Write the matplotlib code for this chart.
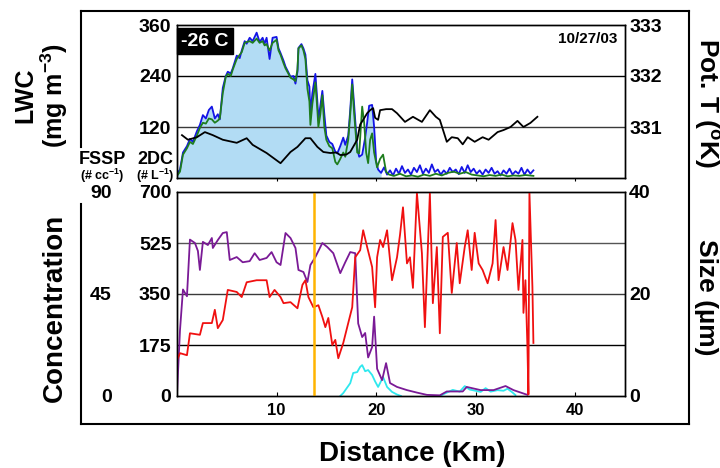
import matplotlib
matplotlib.use("Agg")
import matplotlib.pyplot as plt
from matplotlib.lines import Line2D
import numpy as np

plt.rcParams['font.family'] = ['Liberation Sans', 'DejaVu Sans']
plt.rcParams['font.weight'] = 'bold'
plt.rcParams['mathtext.fontset'] = 'custom'
plt.rcParams['mathtext.rm'] = 'Liberation Sans:bold'
plt.rcParams['mathtext.bf'] = 'Liberation Sans:bold'
plt.rcParams['mathtext.default'] = 'rm'

# ---------------- data ----------------
# LWC probe 1 (blue), mg m-3
lwc1_km = [0.0, 0.3, 0.6, 1.0, 1.3, 1.6, 2.0, 2.3, 2.6, 2.9, 3.2, 3.5, 3.8, 4.1, 4.3, 4.6,
           4.9, 5.1, 5.4, 5.6, 6.0, 6.3, 6.5, 6.8, 7.0, 7.3, 7.6, 8.0, 8.3, 8.6, 8.8, 9.0,
           9.3, 9.6, 10.0, 10.2, 10.4, 10.7, 10.9, 11.2, 11.4, 11.7, 11.9, 12.1, 12.2, 12.5,
           12.7, 12.9, 13.1, 13.3, 13.4, 13.6, 13.9, 14.1, 14.2, 14.4, 14.6, 14.8, 15.0, 15.3,
           15.6, 15.9, 16.1, 16.4, 16.7, 16.9, 17.2, 17.4, 17.6, 17.8, 18.1, 18.3, 18.6, 18.9,
           19.1, 19.3, 19.6, 19.8, 20.0, 20.2,
           20.5, 20.8, 21.1, 21.4, 21.7, 22.0, 22.3, 22.6, 22.9, 23.2, 23.5, 23.8, 24.1, 24.4,
           24.7, 25.0, 25.3, 25.6, 25.9, 26.2, 26.5, 26.8, 27.1, 27.4, 27.7, 28.0, 28.3, 28.6,
           28.9, 29.2, 29.5, 29.8, 30.1, 30.4, 30.7, 31.0, 31.3, 31.6, 31.9, 32.2, 32.5, 32.8,
           33.1, 33.4, 33.7, 34.0, 34.3, 34.6, 34.9, 35.2, 35.5, 35.8]
lwc1_val = [10, 20, 60, 75, 92, 85, 110, 125, 148, 140, 160, 168, 140, 150, 138, 212,
            240, 250, 246, 258, 288, 282, 300, 322, 316, 330, 322, 342, 320, 330, 316, 330,
            280, 330, 332, 305, 294, 276, 262, 248, 238, 240, 222, 250, 306, 315,
            305, 290, 230, 215, 150, 200, 245, 180, 136, 170, 205, 150, 100, 85,
            80, 62, 58, 75, 95, 78, 100, 160, 232, 170, 70, 50, 55, 95,
            130, 170, 172, 120, 40, 20,
            12, 25, 8, 18, 6, 22, 10, 28, 12, 20, 8, 24, 14, 30,
            10, 22, 12, 32, 14, 20, 8, 18, 10, 24, 14, 20, 9, 26,
            12, 30, 14, 22, 10, 18, 8, 20, 12, 24, 10, 16, 6, 18,
            10, 22, 8, 16, 10, 24, 8, 20, 10, 18]

# LWC probe 2 (green), mg m-3
lwc2_km = [0.0, 0.3, 0.6, 1.0, 1.3, 1.6, 2.0, 2.3, 2.6, 2.9, 3.2, 3.5, 3.8, 4.1, 4.3, 4.6,
           4.9, 5.1, 5.4, 5.6, 6.0, 6.3, 6.5, 6.8, 7.0, 7.3, 7.6, 8.0, 8.3, 8.6, 8.8, 9.0,
           9.3, 9.6, 10.0, 10.2, 10.4, 10.7, 10.9, 11.2, 11.4, 11.7, 11.9, 12.1, 12.2, 12.5,
           12.7, 12.9, 13.1, 13.3, 13.4, 13.6, 13.9, 14.1, 14.2, 14.4, 14.6, 14.8, 15.0, 15.3,
           15.6, 15.9, 16.1, 16.4, 16.7, 16.9, 17.2, 17.4, 17.6, 17.8, 18.1, 18.3, 18.6, 18.8,
           19.0, 19.2, 19.4, 19.6, 19.8, 20.1, 20.4, 20.7, 21.0, 21.3,
           21.8, 22.4, 23.0, 23.6, 24.2, 24.8, 25.4, 26.0, 26.6, 27.2, 27.8, 28.4, 29.0, 29.6,
           30.2, 30.8, 31.4, 32.0, 32.6, 33.2, 33.8, 34.4, 35.0, 35.8]
lwc2_val = [5, 15, 55, 70, 85, 80, 100, 118, 130, 128, 140, 138, 130, 135, 140, 200,
            238, 245, 240, 255, 280, 290, 296, 318, 320, 322, 318, 328, 318, 322, 312, 315,
            300, 318, 325, 300, 290, 270, 258, 245, 236, 232, 228, 255, 305, 312,
            300, 280, 210, 180, 125, 175, 225, 160, 120, 150, 195, 120, 90, 75,
            70, 38, 32, 45, 60, 50, 90, 150, 220, 150, 60, 58, 168, 130,
            60, 35, 90, 105, 60, 25, 45, 55, 15, 8,
            5, 10, 4, 6, 3, 8, 5, 10, 6, 12, 15, 10, 14, 8,
            6, 4, 7, 5, 8, 4, 6, 5, 7, 5]

# Potential temperature, K
theta_km = [0.5, 1.1, 2.0, 2.8, 3.6, 4.6, 6.0, 7.0, 7.6, 9.0, 10.4, 11.4, 12.1, 12.9, 13.4,
            14.1, 14.7, 15.4, 16.0, 16.4, 17.0, 17.4, 18.1, 18.4, 18.7, 19.1, 19.4, 19.7,
            19.9, 20.2, 20.4, 21.0, 21.6, 22.1, 22.9, 23.7, 24.6, 25.4, 26.0, 26.4, 27.1,
            27.6, 28.2, 28.7, 29.2, 29.9, 30.7, 31.3, 32.2, 32.8, 33.5, 34.2, 34.8, 35.5, 36.2]
theta_val = [330.84, 330.75, 330.80, 330.90, 330.84, 330.75, 330.69, 330.78, 330.65, 330.49,
             330.29, 330.51, 330.61, 330.78, 330.78, 330.61, 330.51, 330.49, 330.50, 330.45,
             330.46, 330.51, 330.75, 331.05, 331.14, 331.27, 331.33, 331.37, 331.18, 331.14,
             331.33, 331.35, 331.35, 331.27, 331.10, 331.20, 331.10, 331.33, 331.20, 331.14,
             330.71, 330.80, 330.78, 330.66, 330.80, 330.71, 330.80, 330.75, 330.90, 330.94,
             331.00, 331.12, 331.00, 331.08, 331.20]

# FSSP concentration (purple), # cc-1
fssp_km = [0.0, 0.3, 0.6, 1.0, 1.3, 1.8, 2.1, 2.3, 2.6, 3.1, 3.5, 3.6, 4.1, 4.6, 5.0, 5.3,
           6.0, 6.6, 7.3, 7.8, 8.3, 9.0, 9.5, 10.0, 10.4, 10.9, 11.4, 11.9, 12.2, 12.7, 13.1,
           13.4, 13.9, 14.6, 15.1, 15.7, 16.4, 16.9, 17.4, 17.9, 18.2, 18.6, 18.9, 19.2,
           19.6, 19.8, 20.1, 20.6, 21.0, 21.4, 22.1, 23.1, 24.1, 25.1, 26.4, 27.1, 28.0,
           28.7, 29.1, 30.5, 31.8, 33.0, 33.8, 35.2]
fssp_val = [1, 29, 47, 44, 69, 67.5, 64, 55.6, 68, 66.6, 69.7, 65.3, 68.8, 71.9, 72.3, 60,
            61.3, 59, 59.5, 63, 60, 60.9, 63.5, 59, 57.8, 71.9, 69.7, 65.3, 55.6, 54.7, 50.3,
            57.8, 61.3, 67.5, 65.7, 63, 54.2, 59, 63.5, 63, 32, 26, 27.8, 17,
            21.6, 35, 12, 7, 14.5, 5.7, 4, 2.6, 1.5, 0.5, 0.3, 2, 2,
            2, 4, 2.6, 2.6, 4.4, 2.6, 0.5]

# 2DC concentration (cyan), # L-1 ; NaN marks the gap between cloud segments
twodc_km = [16.4, 16.7, 17.4, 17.7, 18.1, 18.4, 18.6, 18.9, 19.2, 19.6, 19.9, 20.2, 20.7,
            21.1, 21.6, 22.1, 22.5, 24.5, 26.4, 27.0, 27.7, 28.4, 28.9, 29.4, 29.7, 30.5,
            31.0, 31.5, 32.2, 32.8, 33.2, 33.7, 34.0]
twodc_val = [0, 10, 44, 79, 82, 100, 106, 85, 89, 72, 50, 31, 65,
             31, 14, 5, 0, np.nan, 0, 10, 21, 15, 34, 22, 20, 14,
             27, 15, 20, 18, 25, 12, 3]

# Mean droplet size (red), um
size_km = [0.0, 0.3, 1.0, 1.3, 2.3, 2.6, 3.5, 3.8, 4.1, 4.6, 5.1, 6.0, 6.5, 7.0, 8.0, 9.0,
           9.3, 9.8, 10.4, 10.7, 11.4, 12.1, 12.6, 12.9, 13.2, 13.7, 14.2, 14.6, 14.9, 15.2,
           15.6, 15.9, 16.2, 16.7, 17.2, 17.6, 17.9, 18.4, 18.7, 19.1, 19.6, 19.9, 20.1,
           20.4, 20.7, 21.1, 21.6, 22.1, 22.4, 22.7, 23.1, 23.4, 23.7, 24.1, 24.6, 24.9,
           25.2, 25.4, 25.7, 26.1, 26.4, 26.7, 27.2, 27.6, 28.1, 28.4, 28.9, 29.2, 29.6,
           29.9, 30.3, 30.7, 31.2, 31.7, 32.0, 32.3, 32.8, 33.2, 33.7, 34.0, 34.3, 34.7,
           34.8, 35.0, 35.2, 35.3, 35.4, 35.7, 35.8]
size_val = [7, 8.4, 8.0, 12.3, 12, 14.3, 14.3, 16.9, 13.3, 14.9, 20.8, 20.4, 19.4, 22.3, 22.7,
            22.7, 19.4, 20.8, 19.4, 18.2, 18.4, 17.2, 21.8, 22.7, 19.4, 17.4, 17.8, 15.5,
            13.5, 15.3, 10, 11, 7.4, 10.4, 14.3, 17.4, 27.2, 28.6, 32.5, 29.2, 25.3, 17.4,
            27.2, 30.6, 29.2, 32.5, 22.7, 27.2, 31.6, 37, 26, 27.2, 21.2, 39.8, 28, 13.5,
            29.2, 39.8, 18.2, 29.2, 12.3, 31.2, 32, 20.2, 30, 22.1, 29.2, 32.5, 24.7,
            32, 26, 24.7, 22.1, 26, 34.5, 22.7, 29.2, 24.7, 33.9, 30.6, 20.8, 30.6,
            16.3, 22.7, 9.6, 0.3, 40, 21.4, 10.4]

marker_km = 13.8          # vertical reference line
fill_end_km = 20.5        # extent of the shaded LWC area

lwc_ticks = [120, 240, 360]
theta_ticks = [331, 332, 333]
twodc_ticks = [0, 175, 350, 525, 700]
fssp_ticks = [0, 45, 90]
size_ticks = [0, 20, 40]
dist_ticks = [10, 20, 30, 40]

# ---------------- figure ----------------
W, H = 720, 468
fig = plt.figure(figsize=(W / 100, H / 100), dpi=100)


def fx(px):
    return px / W


def fy(py):
    return 1 - py / H


L, R = 177, 625
ax_top = fig.add_axes([fx(L), fy(178), fx(R) - fx(L), fy(25) - fy(178)])
ax_bot = fig.add_axes([fx(L), fy(396), fx(R) - fx(L), fy(192) - fy(396)])

BLUE = '#1414e6'
GREEN = '#1e7d1e'
PURPLE = '#7a1a96'
RED = '#f01010'
CYAN = '#2ee8ee'
ORANGE = '#ffb400'
FILL = '#b2dcf4'

# --- top panel: LWC + potential temperature
k1 = np.array(lwc1_km)
v1 = np.array(lwc1_val, dtype=float)
ax_top.fill_between(k1, 0, v1, where=k1 <= fill_end_km, color=FILL, lw=0, zorder=0.5)
ax_top.plot(lwc1_km, lwc1_val, color=BLUE, lw=1.3, zorder=2)
ax_top.plot(lwc2_km, lwc2_val, color=GREEN, lw=1.3, zorder=2.1)
for yv, c in zip([120, 240], ['#3a3a3a', '#000000']):
    ax_top.axhline(yv, color=c, lw=1.0, zorder=1)
ax_top.set_xlim(0, 45)
ax_top.set_ylim(0, 360)
ax_top.set_yticks(lwc_ticks)
ax_top.set_xticks(dist_ticks)
ax_top.tick_params(axis='x', labelbottom=False, direction='out', length=2, width=0.8)
ax_top.tick_params(axis='y', length=0, pad=4, labelsize=14)

ax_th = ax_top.twinx()
ax_th.plot(theta_km, theta_val, color='black', lw=1.3)
ax_th.set_ylim(330, 333)
ax_th.set_yticks(theta_ticks)
ax_th.tick_params(axis='y', length=0, pad=3, labelsize=14)

ax_top.text((205 - L) / (R - L), 1 - (41 - 25) / 153, '-26 C', transform=ax_top.transAxes,
            color='white', fontsize=14, fontweight='bold', ha='center', va='center',
            bbox=dict(boxstyle='square,pad=0.22', fc='black', ec='black'), zorder=5)
ax_top.text((617 - L) / (R - L), 1 - (39 - 25) / 153, '10/27/03', transform=ax_top.transAxes,
            fontsize=11, fontweight='bold', ha='right', va='center')

# --- bottom panel: concentrations + size
ax_bot.plot(twodc_km, twodc_val, color=CYAN, lw=1.3, zorder=2)
for yv, c in zip([175, 350, 525], ['#000000', '#3a3a3a', '#555555']):
    ax_bot.axhline(yv, color=c, lw=1.0, zorder=1)
ax_bot.set_xlim(0, 45)
ax_bot.set_ylim(0, 700)
ax_bot.set_yticks(twodc_ticks)
ax_bot.set_xticks(dist_ticks)
ax_bot.tick_params(axis='x', direction='in', length=3, width=0.8, pad=5, labelsize=12)
ax_bot.tick_params(axis='y', length=0, pad=4, labelsize=14)

ax_f = ax_bot.twinx()
ax_f.plot(fssp_km, fssp_val, color=PURPLE, lw=1.3)
ax_f.set_ylim(0, 90)
ax_f.set_yticks(fssp_ticks)
ax_f.yaxis.tick_left()
ax_f.spines['left'].set_position(('outward', 44))
for s in ax_f.spines.values():
    s.set_visible(False)
ax_f.tick_params(axis='y', length=0, pad=3, labelsize=14)

ax_s = ax_bot.twinx()
ax_s.plot(size_km, size_val, color=RED, lw=1.3)
ax_s.axvline(marker_km, color=ORANGE, lw=1.8)
ax_s.set_ylim(0, 40)
ax_s.set_yticks(size_ticks)
ax_s.tick_params(axis='y', length=0, pad=3, labelsize=14)

for a in (ax_top, ax_th, ax_bot, ax_s):
    for s in a.spines.values():
        s.set_linewidth(1.0)

# --- axis titles
fig.text(fx(42), fy(95), 'LWC\n(mg m$^{-3}$)', rotation=90, ha='center', va='center',
         fontsize=18, fontweight='bold', linespacing=1.05, multialignment='center')
fig.text(fx(707), fy(103), 'Pot. T ($^{o}$K)', rotation=-90, ha='center', va='center',
         fontsize=19, fontweight='bold')
fig.text(fx(55), fy(308), 'Concentration', rotation=90, ha='center', va='center',
         fontsize=20, fontweight='bold')
fig.text(fx(706), fy(297), 'Size (µm)', rotation=-90, ha='center', va='center',
         fontsize=19, fontweight='bold')
fig.text(fx(412), fy(454), 'Distance (Km)', ha='center', va='center',
         fontsize=20, fontweight='bold')
fig.text(fx(102), fy(160), 'FSSP', ha='center', va='center', fontsize=13, fontweight='bold')
fig.text(fx(102), fy(176), '(# cc$^{-1}$)', ha='center', va='center', fontsize=9,
         fontweight='bold')
fig.text(fx(155), fy(160), '2DC', ha='center', va='center', fontsize=13, fontweight='bold')
fig.text(fx(155), fy(176), '(# L$^{-1}$)', ha='center', va='center', fontsize=9,
         fontweight='bold')

# --- outer frame (left side interrupted by the probe labels)
frame = [((81, 11), (689, 11)), ((689, 11), (689, 424)), ((81, 424), (689, 424)),
         ((81, 11), (81, 147)), ((81, 204), (81, 424))]
for (x0, y0), (x1, y1) in frame:
    fig.add_artist(Line2D([fx(x0), fx(x1)], [fy(y0), fy(y1)], transform=fig.transFigure,
                          color='black', lw=1.5, solid_capstyle='projecting'))

fig.savefig('out.png', dpi=100)
